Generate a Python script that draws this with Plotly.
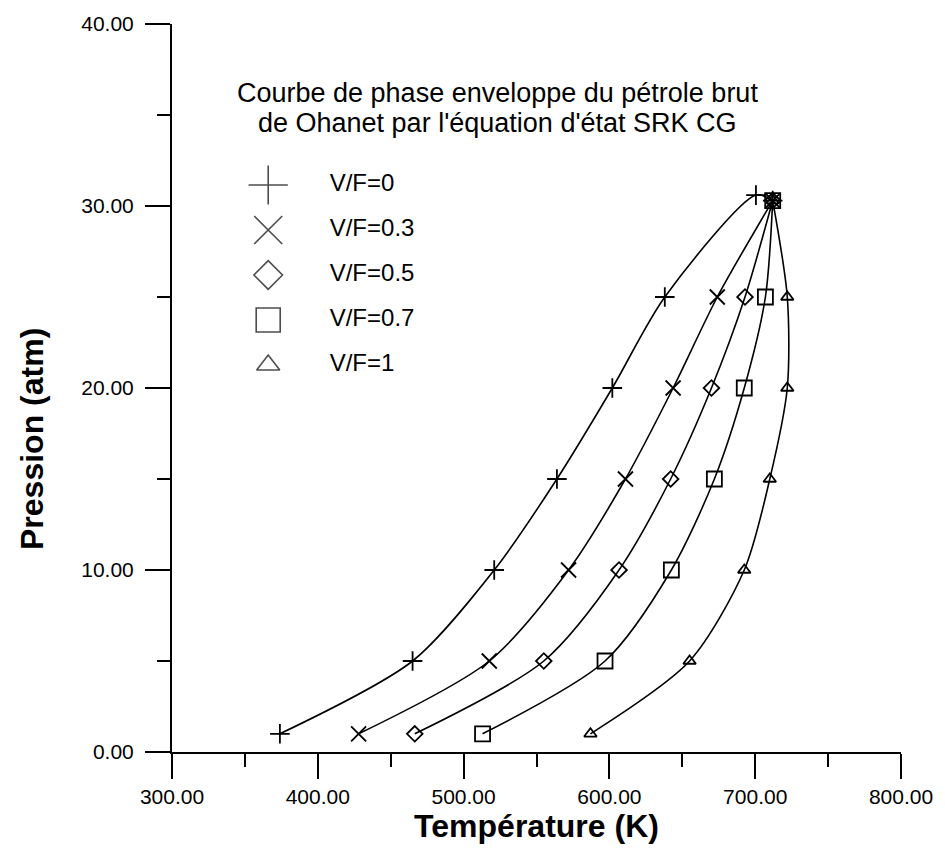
import plotly.graph_objects as go

# ---------------- data ----------------
labels = ["V/F=0", "V/F=0.3", "V/F=0.5", "V/F=0.7", "V/F=1"]
symbols = ["cross-thin-open", "x-thin-open", "diamond-open", "square-open", "triangle-up-open"]

T_vf0 = [374, 465, 521, 564, 602, 638, 700.5, 712]
P_vf0 = [1, 5, 10, 15, 20, 25, 30.6, 30.3]

T_vf03 = [428, 517.6, 572, 611, 643.7, 674, 712]
P_vf03 = [1, 5, 10, 15, 20, 25, 30.3]

T_vf05 = [466.5, 555, 606.6, 642, 670, 693, 712]
P_vf05 = [1, 5, 10, 15, 20, 25, 30.3]

T_vf07 = [513, 597, 642.5, 672, 692.5, 707, 712]
P_vf07 = [1, 5, 10, 15, 20, 25, 30.3]

T_vf1 = [587, 655, 692.5, 710, 722, 722, 712]
P_vf1 = [1, 5, 10, 15, 20, 25, 30.3]

series_T = [T_vf0, T_vf03, T_vf05, T_vf07, T_vf1]
series_P = [P_vf0, P_vf03, P_vf05, P_vf07, P_vf1]

x_ticks = [300, 400, 500, 600, 700, 800]
y_ticks = [0, 10, 20, 30, 40]

title_lines = ["Courbe de phase enveloppe du pétrole brut",
               "de Ohanet par l'équation d'état SRK CG"]
x_title = "Température (K)"
y_title = "Pression (atm)"

FONT = "Liberation Sans, Arial, sans-serif"

fig = go.Figure()

marker_sizes = [14, 15, 12, 15, 11]
for T, P, sym, lab, ms in zip(series_T, series_P, symbols, labels, marker_sizes):
    fig.add_trace(go.Scatter(
        x=T, y=P, mode="lines+markers", name=lab, showlegend=False,
        line=dict(color="black", width=1.6, shape="spline", smoothing=0.8),
        marker=dict(symbol=sym, size=ms, color="black",
                    line=dict(color="black", width=1.8)),
    ))

# ---------------- custom legend on an overlay pixel-like axis ----------------
leg_rows = [185, 230, 275, 320, 365]
fig.add_trace(go.Scatter(
    x=[269] * len(labels), y=leg_rows, mode="markers", showlegend=False,
    xaxis="x2", yaxis="y2",
    marker=dict(symbol=symbols, size=[28, 28, 22, 24, 20], color="black",
                line=dict(color="black", width=1.6)),
))
fig.add_trace(go.Scatter(
    x=[331] * len(labels), y=leg_rows, mode="text", text=labels,
    textposition="middle right", showlegend=False,
    xaxis="x2", yaxis="y2",
    textfont=dict(family=FONT, size=24, color="black"),
))

for line, yy in zip(title_lines, [93, 123]):
    fig.add_annotation(
        x=500, y=yy, xref="x2", yref="y2", showarrow=False,
        text=line, align="center",
        font=dict(family=FONT, size=27, color="black"),
    )

# y-axis title placed like the reference (a little below the axis centre)
fig.add_annotation(
    x=-0.192, y=0.43, xref="paper", yref="paper", showarrow=False,
    textangle=-90, xanchor="center", yanchor="middle",
    text="<b>" + y_title + "</b>",
    font=dict(family=FONT, size=32, color="black"),
)

axis_common = dict(
    showline=True, linecolor="black", linewidth=2,
    ticks="outside", tickcolor="black", tickwidth=2, ticklen=25,
    showgrid=False, zeroline=False, tickformat=".2f",
    tickfont=dict(family=FONT, size=21, color="black"),
)

fig.update_layout(
    width=945, height=856,
    margin=dict(l=172, r=38, t=24, b=104),
    paper_bgcolor="white", plot_bgcolor="white",
    xaxis=dict(range=[300, 800], tickvals=x_ticks, **axis_common,
               minor=dict(dtick=50, ticks="outside", ticklen=13, tickwidth=2, tickcolor="black"),
               title=dict(text="<b>" + x_title + "</b>", standoff=4,
                          font=dict(family=FONT, size=32, color="black"))),
    yaxis=dict(range=[0, 40], tickvals=y_ticks, **axis_common,
               ticklabelstandoff=7,
               minor=dict(dtick=5, ticks="outside", ticklen=13, tickwidth=2, tickcolor="black")),
    xaxis2=dict(overlaying="x", range=[172, 907], visible=False),
    yaxis2=dict(overlaying="y", range=[752, 24], visible=False),
)

fig.write_html("out.html")
